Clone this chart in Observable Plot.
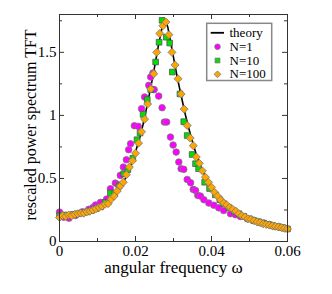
<!DOCTYPE html>
<html>
<head>
<meta charset="utf-8">
<script src="https://cdn.jsdelivr.net/npm/d3@7"></script>
<script src="https://cdn.jsdelivr.net/npm/@observablehq/plot@0.6"></script>
<style>
  html, body { margin: 0; padding: 0; background: #fff; }
  svg text { font-family: 'Liberation Serif', 'DejaVu Serif', serif; }
</style>
</head>
<body>
<div id="chart"></div>
<script>
// ---- data ----
const theoryX = [0, 0.002, 0.004, 0.006, 0.008, 0.010, 0.012, 0.013, 0.014, 0.015, 0.016, 0.017, 0.018, 0.019, 0.020, 0.021, 0.022, 0.023, 0.024, 0.025, 0.026, 0.027, 0.0275, 0.028, 0.0285, 0.029, 0.030, 0.031, 0.032, 0.033, 0.034, 0.035, 0.036, 0.037, 0.038, 0.039, 0.040, 0.041, 0.042, 0.043, 0.044, 0.045, 0.046, 0.047, 0.048, 0.050, 0.052, 0.054, 0.056, 0.058, 0.060];
const theoryY = [0.195, 0.203, 0.213, 0.226, 0.243, 0.266, 0.300, 0.325, 0.355, 0.390, 0.430, 0.480, 0.545, 0.620, 0.710, 0.810, 0.930, 1.070, 1.220, 1.380, 1.550, 1.700, 1.755, 1.750, 1.700, 1.620, 1.460, 1.300, 1.160, 1.020, 0.900, 0.790, 0.690, 0.610, 0.540, 0.480, 0.430, 0.385, 0.345, 0.315, 0.290, 0.265, 0.245, 0.225, 0.205, 0.172, 0.152, 0.137, 0.124, 0.112, 0.100];

const n1X = [0, 0.0011, 0.0025, 0.0042, 0.006, 0.0077, 0.0088, 0.0095, 0.0108, 0.0124, 0.0134, 0.0147, 0.0155, 0.016, 0.0168, 0.0176, 0.0182, 0.0187, 0.0197, 0.0207, 0.0216, 0.0224, 0.0235, 0.024, 0.0246, 0.0249, 0.0261, 0.027, 0.0276, 0.0282, 0.0292, 0.0299, 0.0307, 0.0314, 0.032, 0.0327, 0.0336, 0.0345, 0.0352, 0.0358, 0.0364, 0.0371, 0.038, 0.0393, 0.0406, 0.0419, 0.0432, 0.045, 0.0463, 0.0476, 0.0494, 0.0511, 0.0525, 0.0538, 0.0551, 0.0564, 0.0577, 0.059];
const n1Y = [0.233, 0.193, 0.185, 0.206, 0.235, 0.255, 0.270, 0.290, 0.310, 0.336, 0.418, 0.463, 0.450, 0.524, 0.590, 0.648, 0.728, 0.775, 0.918, 0.913, 1.053, 1.146, 1.238, 1.304, 1.336, 1.204, 1.153, 1.061, 0.947, 0.947, 0.828, 0.765, 0.709, 0.630, 0.577, 0.572, 0.492, 0.466, 0.413, 0.405, 0.365, 0.360, 0.331, 0.305, 0.288, 0.267, 0.246, 0.220, 0.212, 0.198, 0.180, 0.167, 0.155, 0.146, 0.135, 0.122, 0.114, 0.106];

const n10X = [0, 0.0012, 0.0024, 0.0036, 0.0048, 0.006, 0.0072, 0.0084, 0.0096, 0.0108, 0.012, 0.0134, 0.0145, 0.0157, 0.0169, 0.018, 0.0193, 0.0204, 0.0212, 0.022, 0.0231, 0.024, 0.0253, 0.0262, 0.027, 0.0281, 0.029, 0.0297, 0.0317, 0.0327, 0.0336, 0.0349, 0.0358, 0.0366, 0.0382, 0.0395, 0.041, 0.0422, 0.0432, 0.0445, 0.046, 0.0472, 0.0485, 0.05, 0.0512, 0.0525, 0.0537, 0.055, 0.0562, 0.0575, 0.0587, 0.06];
const n10Y = [0.205, 0.210, 0.205, 0.215, 0.220, 0.225, 0.235, 0.245, 0.260, 0.275, 0.310, 0.385, 0.380, 0.440, 0.537, 0.570, 0.660, 0.807, 0.860, 1.008, 1.125, 1.204, 1.423, 1.580, 1.754, 1.620, 1.574, 1.344, 1.170, 0.950, 0.840, 0.690, 0.617, 0.577, 0.470, 0.420, 0.370, 0.330, 0.300, 0.270, 0.240, 0.220, 0.200, 0.180, 0.165, 0.155, 0.145, 0.135, 0.125, 0.118, 0.110, 0.100];

const n100X = [0, 0.0008, 0.0016, 0.0024, 0.0032, 0.004, 0.0048, 0.0056, 0.0064, 0.0072, 0.008, 0.0088, 0.0096, 0.0104, 0.0112, 0.012, 0.0128, 0.0136, 0.0144, 0.0152, 0.016, 0.0168, 0.0176, 0.0184, 0.0192, 0.02, 0.0208, 0.0216, 0.0224, 0.0232, 0.024, 0.0248, 0.0256, 0.0264, 0.0272, 0.028, 0.0288, 0.0296, 0.0304, 0.0312, 0.032, 0.0328, 0.0336, 0.0344, 0.0352, 0.036, 0.0368, 0.0376, 0.0384, 0.0392, 0.04, 0.0408, 0.0416, 0.0424, 0.0432, 0.044, 0.0448, 0.0456, 0.0464, 0.0472, 0.048, 0.0488, 0.0496, 0.0504, 0.0512, 0.052, 0.0528, 0.0536, 0.0544, 0.0552, 0.056, 0.0568, 0.0576, 0.0584, 0.0592, 0.06];
const n100Y = [0.190, 0.205, 0.200, 0.210, 0.205, 0.215, 0.220, 0.225, 0.225, 0.235, 0.240, 0.250, 0.260, 0.270, 0.280, 0.295, 0.300, 0.335, 0.360, 0.400, 0.440, 0.470, 0.530, 0.590, 0.640, 0.700, 0.780, 0.870, 0.970, 1.090, 1.210, 1.330, 1.500, 1.650, 1.710, 1.740, 1.640, 1.500, 1.400, 1.290, 1.170, 1.050, 0.920, 0.820, 0.760, 0.670, 0.620, 0.560, 0.510, 0.470, 0.430, 0.390, 0.360, 0.330, 0.305, 0.290, 0.270, 0.255, 0.240, 0.220, 0.205, 0.195, 0.180, 0.175, 0.165, 0.155, 0.150, 0.140, 0.135, 0.130, 0.125, 0.120, 0.115, 0.110, 0.105, 0.100];

const xMajorTicks = [0, 0.02, 0.04, 0.06];
const xMinorTicks = [0.01, 0.03, 0.05];
const xTickLabels = ["0", "0.02", "0.04", "0.06"];
const yMajorTicks = [0, 0.5, 1, 1.5];
const yMinorTicks = [0.25, 0.75, 1.25, 1.75];
const yTickLabels = ["0", "0.5", "1", "1.5"];
const seriesNames = ["theory", "N=1", "N=10", "N=100"];
const xLabel = "angular frequency ω";
const yLabel = "rescaled power spectrum TFT";

// ---- layout ----
const W = 332, H = 294;
const mL = 59, mR = 45, mT = 14, mB = 53;
const innerW = W - mL - mR, innerH = H - mT - mB;
const xDom = [0, 0.06], yDom = [0, 1.8];
// pixel -> data helpers for legend placement
const px2x = p => xDom[0] + (p - mL) / innerW * (xDom[1] - xDom[0]);
const py2y = p => yDom[1] - (p - mT) / innerH * (yDom[1] - yDom[0]);

const zip = (xs, ys) => xs.map((x, i) => ({x, y: ys[i]}));
const theory = zip(theoryX, theoryY);
const n1 = zip(n1X, n1Y);
const n10 = zip(n10X, n10Y);
const n100 = zip(n100X, n100Y);

const styles = {
  "N=1": {symbol: "circle", fill: "#ff00ff", stroke: "#7a7a7a", r: 3.3},
  "N=10": {symbol: "square", fill: "#00e000", stroke: "#555", r: 3.2},
  "N=100": {symbol: "diamond2", fill: "#ffa500", stroke: "#777", r: 3.6}
};

// legend geometry (pixels -> data coords)
const legRows = [32.3, 46.2, 60, 73.8];
const legend = seriesNames.map((name, i) => ({name, y: py2y(legRows[i])}));
const legBox = {x1: px2x(206.7), x2: px2x(271.7), y1: py2y(80.5), y2: py2y(23.3)};

const fontFam = "Liberation Serif";

const chart = Plot.plot({
  width: W, height: H,
  marginLeft: mL, marginRight: mR, marginTop: mT, marginBottom: mB,
  x: {domain: xDom},
  y: {domain: yDom},
  style: {fontFamily: fontFam, fontSize: "15px", background: "#fff", color: "#000"},
  marks: [
    // ticks inward on all four sides
    Plot.tickX(xMajorTicks, {x: d => d, insetTop: innerH - 5, stroke: "#333"}),
    Plot.tickX(xMinorTicks, {x: d => d, insetTop: innerH - 3, stroke: "#333"}),
    Plot.tickX(xMajorTicks, {x: d => d, insetBottom: innerH - 5, stroke: "#333"}),
    Plot.tickX(xMinorTicks, {x: d => d, insetBottom: innerH - 3, stroke: "#333"}),
    Plot.tickY(yMajorTicks, {y: d => d, insetRight: innerW - 5, stroke: "#333"}),
    Plot.tickY(yMinorTicks, {y: d => d, insetRight: innerW - 3, stroke: "#333"}),
    Plot.tickY(yMajorTicks, {y: d => d, insetLeft: innerW - 5, stroke: "#333"}),
    Plot.tickY(yMinorTicks, {y: d => d, insetLeft: innerW - 3, stroke: "#333"}),
    Plot.axisX(xMajorTicks, {tickSize: 0, tickPadding: 4, fontSize: 15, fontFamily: fontFam, tickFormat: (d, i) => xTickLabels[i]}),
    Plot.axisY(yMajorTicks, {tickSize: 0, tickPadding: 3, fontSize: 15, fontFamily: fontFam, tickFormat: (d, i) => yTickLabels[i]}),
    Plot.text([xLabel], {frameAnchor: "bottom", dy: 26, fontSize: 17, fontFamily: fontFam, lineAnchor: "middle", textAnchor: "middle"}),
    Plot.text([yLabel], {frameAnchor: "left", dx: -29, dy: -3, rotate: -90, fontSize: 16, fontFamily: fontFam, lineAnchor: "middle", textAnchor: "middle"}),
    // data
    Plot.line(theory, {x: "x", y: "y", stroke: "#000", strokeWidth: 1.6}),
    Plot.dot(n1, {x: "x", y: "y", ...styles["N=1"], strokeWidth: 0.8}),
    Plot.dot(n10, {x: "x", y: "y", ...styles["N=10"], strokeWidth: 0.8}),
    Plot.dot(n100, {x: "x", y: "y", ...styles["N=100"], strokeWidth: 0.8}),
    Plot.frame({stroke: "#333", strokeWidth: 1}),
    // legend
    Plot.rect([legBox], {x1: "x1", x2: "x2", y1: "y1", y2: "y2", fill: "#fff", stroke: "#888", strokeWidth: 1.5}),
    Plot.ruleY([legend[0]], {y: "y", x1: px2x(210.7), x2: px2x(224), stroke: "#000", strokeWidth: 1.8}),
    Plot.dot(legend.slice(1), {
      x: px2x(217), y: "y",
      symbol: d => styles[d.name].symbol,
      fill: d => styles[d.name].fill,
      r: d => styles[d.name].r * 0.85,
      stroke: "#777", strokeWidth: 0.8
    }),
    Plot.text(legend, {x: px2x(229), y: "y", text: "name", textAnchor: "start", fontSize: 13, fontFamily: fontFam, lineAnchor: "middle"})
  ],
  symbol: {type: "identity"},
  r: {type: "identity"},
  color: {type: "identity"}
});
document.getElementById("chart").appendChild(chart);
</script>
</body>
</html>
